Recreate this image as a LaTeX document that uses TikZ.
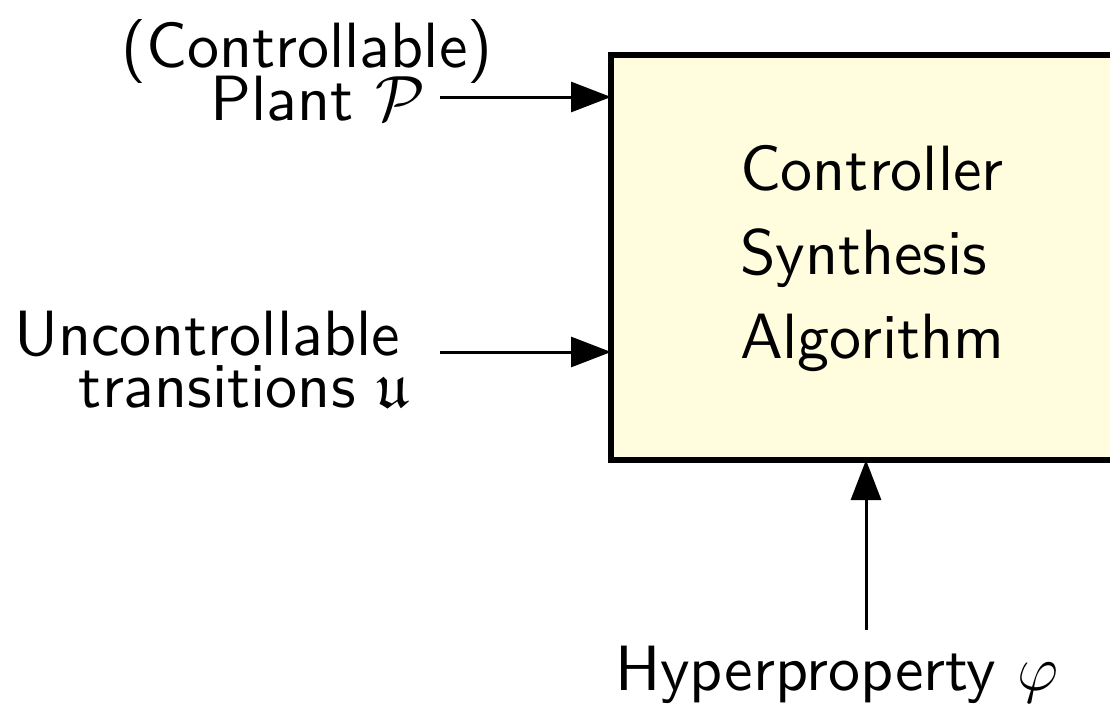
\RequirePackage{fix-cm}
\documentclass[tikz,border=0pt]{standalone}
\usepackage{fontspec}
\setsansfont{lmsans10-regular}[Extension=.otf]
\usepackage{amsfonts}
\DeclareFontFamily{U}{euf}{}
\DeclareFontShape{U}{euf}{m}{n}{<-6>eufm5<6-8>eufm7<8->eufm10}{}
\usetikzlibrary{arrows.meta}
\definecolor{boxfill}{RGB}{255,253,222}
\tikzset{
  algbox/.style={draw=black, fill=boxfill, line width=6pt, inner sep=0pt, outer sep=0pt},
  lbl/.style={inner sep=0pt, outer sep=0pt},
  arr/.style={line width=3pt, -{Triangle[length=40pt,width=30pt]}}
}
\begin{document}
\begin{tikzpicture}[x=1pt,y=-1pt,font=\fontsize{64}{76}\selectfont\sffamily]
\useasboundingbox (0,0) rectangle (1110,712);
\node[algbox, anchor=north west, minimum width=540pt, minimum height=405pt] (box) at (611,55) {};
\node[lbl, anchor=base west] (t1) at (740,190) {Controller};
\node[lbl, anchor=base west] (t2) at (740,274) {Synthesis};
\node[lbl, anchor=base west] (t3) at (740,358) {Algorithm};
\node[lbl, anchor=base] (p1) at (307,67) {(Controllable)};
\node[lbl, anchor=base east] (p2) at (425,120) {Plant $\mathcal{P}$};
\node[lbl, anchor=base east] (u1) at (400,355) {Uncontrollable};
\node[lbl, anchor=base east] (u2) at (410,407) {transitions $\mathfrak{u}$};
\node[lbl, anchor=base west] (h1) at (615,690) {Hyperproperty $\varphi$};
\coordinate (pin) at (440,97);
\coordinate (uin) at (440,352);
\coordinate (hin) at (866,630);
\draw[arr] (pin) -- (pin -| box.west);
\draw[arr] (uin) -- (uin -| box.west);
\draw[arr] (hin) -- (hin |- box.south);
\end{tikzpicture}
\end{document}
